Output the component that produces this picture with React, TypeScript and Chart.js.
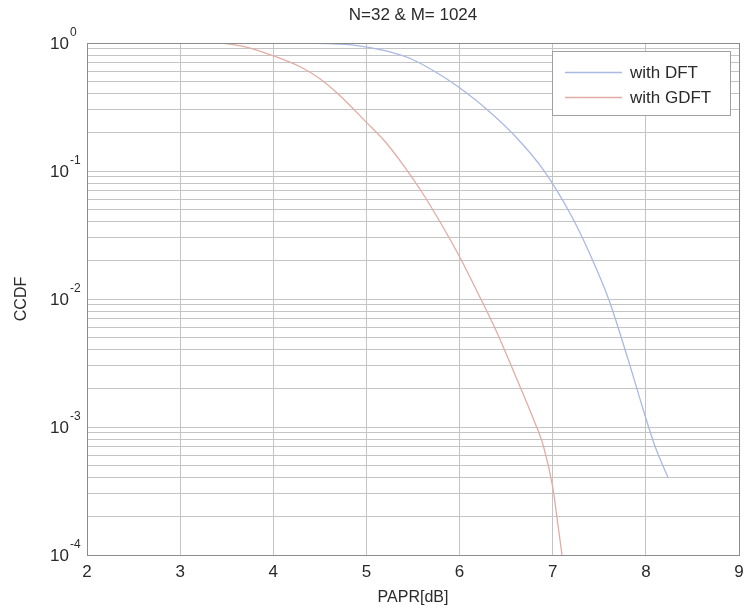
import React, { useEffect, useRef } from 'react';
import { Chart, registerables } from 'chart.js';

Chart.register(...registerables);

const chartTitle = 'N=32 & M= 1024';
const xAxisLabel = 'PAPR[dB]';
const yAxisLabel = 'CCDF';
const seriesNames = ['with DFT', 'with GDFT'];
const xTicks = [2, 3, 4, 5, 6, 7, 8, 9];
const yDecades = [-4, -3, -2, -1, 0];
const yMinorSteps = [1, 2, 3, 4, 5, 6, 7, 8, 9];

const dftPapr = [4.45, 4.9, 5.2, 5.5, 5.8, 6.0, 6.3, 6.6, 6.9, 7.2, 7.4, 7.6, 7.8, 8.0, 8.1, 8.24];
const dftCcdf = [1.0, 0.955, 0.87, 0.74, 0.56, 0.447, 0.3, 0.186, 0.102, 0.0447, 0.0224, 0.01, 0.00355, 0.00117, 0.0007, 0.0004];

const gdftPapr = [3.45, 3.7, 4.0, 4.3, 4.5, 4.7, 5.0, 5.2, 5.4, 5.6, 5.8, 6.0, 6.2, 6.4, 6.6, 6.8, 6.9, 7.0, 7.05, 7.1];
const gdftCcdf = [1.0, 0.933, 0.794, 0.646, 0.525, 0.398, 0.24, 0.17, 0.11, 0.0676, 0.0389, 0.0214, 0.011, 0.0055, 0.00251, 0.00112, 0.00071, 0.00034, 0.000186, 0.0001];

const seriesColors = ['#aab8e4', '#e2aca4'];

const FONT = '"Liberation Sans", Arial, Helvetica, sans-serif';

const decorPlugin = {
  id: 'matlabDecor',
  afterDraw(chart: any) {
    const ctx = chart.ctx as CanvasRenderingContext2D;
    const area = chart.chartArea;
    const xs = chart.scales.x;
    const ys = chart.scales.y;
    ctx.save();
    // axes box
    ctx.strokeStyle = '#8c8c8c';
    ctx.lineWidth = 1;
    ctx.strokeRect(Math.round(area.left) + 0.5, Math.round(area.top) + 0.5, Math.round(area.right - area.left), Math.round(area.bottom - area.top));

    ctx.fillStyle = '#2a2a2a';
    // title
    ctx.font = `17px ${FONT}`;
    ctx.textAlign = 'center';
    ctx.textBaseline = 'middle';
    ctx.fillText(chartTitle, (area.left + area.right) / 2, 15);

    // x tick labels
    ctx.font = `17px ${FONT}`;
    for (const v of xTicks) {
      ctx.fillText(String(v), xs.getPixelForValue(v), area.bottom + 17);
    }
    // x axis label
    ctx.font = `16px ${FONT}`;
    ctx.fillText(xAxisLabel, (area.left + area.right) / 2, area.bottom + 43);

    // y tick labels
    for (const e of yDecades) {
      const py = ys.getPixelForValue(Math.pow(10, e));
      ctx.font = `17px ${FONT}`;
      ctx.textAlign = 'right';
      ctx.fillText('10', 69, py + 1);
      ctx.font = `12px ${FONT}`;
      ctx.textAlign = 'left';
      ctx.fillText(String(e), 70, py - 10);
    }

    // y axis label
    ctx.save();
    ctx.translate(22, (area.top + area.bottom) / 2);
    ctx.rotate(-Math.PI / 2);
    ctx.font = `16px ${FONT}`;
    ctx.textAlign = 'center';
    ctx.fillText(yAxisLabel, 0, 0);
    ctx.restore();

    // legend
    const lx = 552, ly = 51, lw = 178, lh = 64;
    ctx.fillStyle = '#ffffff';
    ctx.fillRect(lx, ly, lw, lh);
    ctx.strokeStyle = '#a0a0a0';
    ctx.strokeRect(lx + 0.5, ly + 0.5, lw, lh);
    const rows = [72, 97];
    ctx.font = `17px ${FONT}`;
    ctx.textAlign = 'left';
    ctx.textBaseline = 'middle';
    rows.forEach((ry, i) => {
      ctx.strokeStyle = seriesColors[i];
      ctx.lineWidth = 1.5;
      ctx.beginPath();
      ctx.moveTo(565, ry + 0.5);
      ctx.lineTo(622, ry + 0.5);
      ctx.stroke();
      ctx.fillStyle = '#2a2a2a';
      ctx.fillText(seriesNames[i], 630, ry + 1);
    });
    ctx.restore();
  },
};

export default function App() {
  const ref = useRef<HTMLCanvasElement | null>(null);

  useEffect(() => {
    const canvas = ref.current;
    if (!canvas) return;
    const yGrid: number[] = [];
    yDecades.forEach((e) => {
      if (e === 0) {
        yGrid.push(1);
      } else {
        yMinorSteps.forEach((m) => yGrid.push(m * Math.pow(10, e)));
      }
    });
    const chart = new Chart(canvas, {
      type: 'scatter',
      data: {
        datasets: [
          {
            label: seriesNames[0],
            data: dftPapr.map((x, i) => ({ x, y: dftCcdf[i] })),
            showLine: true,
            borderColor: seriesColors[0],
            borderWidth: 1.3,
            pointRadius: 0,
            cubicInterpolationMode: 'monotone',
          },
          {
            label: seriesNames[1],
            data: gdftPapr.map((x, i) => ({ x, y: gdftCcdf[i] })),
            showLine: true,
            borderColor: seriesColors[1],
            borderWidth: 1.3,
            pointRadius: 0,
            cubicInterpolationMode: 'monotone',
          },
        ],
      },
      options: {
        animation: false,
        responsive: false,
        devicePixelRatio: 1,
        layout: { padding: { top: 43, right: 7, bottom: 0, left: 0 } },
        plugins: {
          legend: { display: false },
          tooltip: { enabled: false },
          title: { display: false },
        },
        scales: {
          x: {
            type: 'linear',
            min: 2,
            max: 9,
            afterBuildTicks: (s: any) => {
              s.ticks = xTicks.map((v) => ({ value: v }));
            },
            afterFit: (s: any) => {
              s.height = 55;
            },
            grid: { color: '#c4c4c4', lineWidth: 1, drawTicks: false },
            border: { display: false },
            ticks: { display: false },
          },
          y: {
            type: 'logarithmic',
            min: 1e-4,
            max: 1,
            afterBuildTicks: (s: any) => {
              s.ticks = yGrid.map((v) => ({ value: v }));
            },
            afterFit: (s: any) => {
              s.width = 87;
            },
            grid: { color: '#c4c4c4', lineWidth: 1, drawTicks: false },
            border: { display: false },
            ticks: { display: false },
          },
        },
      } as any,
      plugins: [decorPlugin],
    });
    return () => chart.destroy();
  }, []);

  return (
    <canvas
      ref={ref}
      width={746}
      height={610}
      style={{ position: 'absolute', left: 0, top: 0, width: 746, height: 610, background: '#ffffff' }}
    />
  );
}
